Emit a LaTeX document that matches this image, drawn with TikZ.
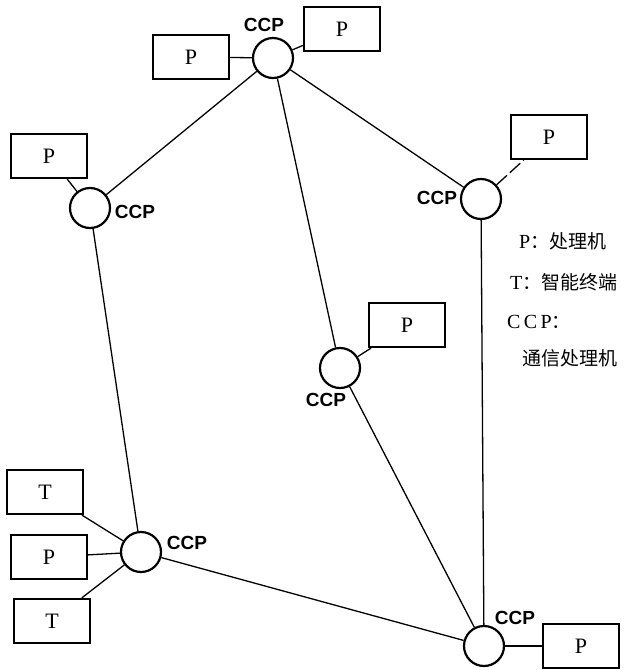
\documentclass[tikz,border=0pt]{standalone}
\usepackage{fontspec}
\setmainfont{Liberation Serif}
\setsansfont{Liberation Sans}
\newfontfamily\cjk{Noto Sans CJK SC}

\begin{document}
\begin{tikzpicture}[x=1pt,y=-1pt,
  ccp/.style={draw, circle, line width=2.2pt, minimum size=40pt, inner sep=0pt},
  proc/.style={draw, line width=2.2pt, minimum width=76pt, minimum height=44pt, inner sep=0pt, font=\fontsize{22}{26}\selectfont},
  lab/.style={inner sep=0pt, font=\sffamily\bfseries\fontsize{19}{22}\selectfont},
  leg/.style={anchor=west, inner sep=0pt, font=\fontsize{20}{24}\selectfont},
  link/.style={line width=1.3pt}]
\useasboundingbox (0,0) rectangle (640,670);
% communication processors
\node[ccp] (ccpA) at (273,58) {};
\node[ccp] (ccpB) at (90,208) {};
\node[ccp] (ccpC) at (481,199) {};
\node[ccp] (ccpD) at (340,368) {};
\node[ccp] (ccpE) at (141,552) {};
\node[ccp] (ccpF) at (484,646) {};
\node[lab] (labA) at (264,25) {CCP};
\node[lab] (labB) at (135,212) {CCP};
\node[lab] (labC) at (437,198) {CCP};
\node[lab] (labD) at (326,400) {CCP};
\node[lab] (labE) at (187,543) {CCP};
\node[lab] (labF) at (515,618) {CCP};
% hosts and terminals
\node[proc] (pA1) at (191,57) {P};
\node[proc] (pA2) at (342,29) {P};
\node[proc] (pB) at (49,156) {P};
\node[proc] (pC) at (549,137) {P};
\node[proc] (pD) at (407,325) {P};
\node[proc] (tE1) at (45,492) {T};
\node[proc] (pE) at (49,557) {P};
\node[proc] (tE2) at (52,621) {T};
\node[proc] (pF) at (581,646) {P};
% links
\foreach \a/\b in {ccpA/ccpB, ccpA/ccpC, ccpA/ccpD, ccpB/ccpE, ccpC/ccpF,
  ccpD/ccpF, ccpE/ccpF, ccpA/pA1, ccpA/pA2, ccpB/pB, ccpD/pD,
  ccpE/tE1, ccpE/pE, ccpE/tE2, ccpF/pF}
  \draw[link] (\a) -- (\b);
\draw[link, dash pattern=on 14pt off 4pt] (ccpC) -- (pC);
% legend
\node[leg] (legP) at (519,241) {P{\cjk\fontsize{19}{22}\selectfont ：处理机}};
\node[leg] (legT) at (510,282) {T{\cjk\fontsize{19}{22}\selectfont ：智能终端}};
\node[leg] (legC) at (507,322) {C\,C\,P{\cjk\fontsize{19}{22}\selectfont ：}};
\node[leg] (legC2) at (522,358) {\cjk\fontsize{19}{22}\selectfont 通信处理机};
\end{tikzpicture}
\end{document}
